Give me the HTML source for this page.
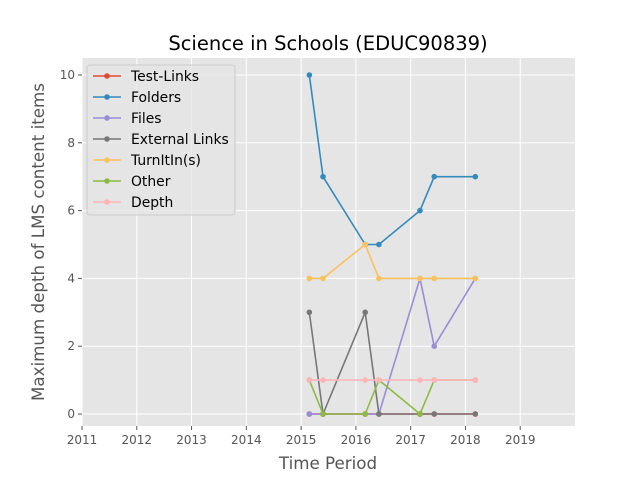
<!DOCTYPE html>
<html><head><meta charset="utf-8"><style>
body{margin:0;background:#fff;font-family:"DejaVu Sans","Liberation Sans",sans-serif}
</style></head><body>
<svg id="chart" width="640" height="480" xmlns="http://www.w3.org/2000/svg" font-family="DejaVu Sans, Liberation Sans, sans-serif"></svg>
<script>
const xTicks=[2011,2012,2013,2014,2015,2016,2017,2018,2019];
const yTicks=[0,2,4,6,8,10];
const times=[2015.15,2015.40,2016.17,2016.42,2017.17,2017.43,2018.18];
const seriesNames=["Test-Links","Folders","Files","External Links","TurnItIn(s)","Other","Depth"];
const colors=["#E24A33","#348ABD","#988ED5","#777777","#FBC15E","#8EBA42","#FFB5B8"];
const testLinks=[0,0,0,0,0,0,0];
const folders=[10,7,5,5,6,7,7];
const files=[0,0,0,0,4,2,4];
const externalLinks=[3,0,3,0,0,0,0];
const turnitin=[4,4,5,4,4,4,4];
const other=[1,0,0,1,0,1,1];
const depth=[1,1,1,1,1,1,1];
const allSeries=[testLinks,folders,files,externalLinks,turnitin,other,depth];

const L=82,R=575,T=58,B=426;
const xs=v=>L+(v-2011)*(R-L)/9;
const ys=v=>414-v*33.9;
const svg=document.getElementById('chart');
const NS="http://www.w3.org/2000/svg";
function mk(tag,attrs,parent){const e=document.createElementNS(NS,tag);for(const k in attrs)e.setAttribute(k,attrs[k]);(parent||svg).appendChild(e);return e;}
let e=mk('rect',{x:L,y:T,width:R-L,height:B-T,fill:'#E5E5E5'});


xTicks.forEach(t=>{
  mk('line',{x1:xs(t),x2:xs(t),y1:T,y2:B,stroke:'#fff','stroke-width':1});
  mk('line',{x1:xs(t),x2:xs(t),y1:B,y2:B+4,stroke:'#555'});
  const tx=mk('text',{x:xs(t),y:B+18,'text-anchor':'middle','font-size':12,fill:'#555'});
  tx.textContent=t;
  
  
});
yTicks.forEach(t=>{
  mk('line',{x1:L,x2:R,y1:ys(t),y2:ys(t),stroke:'#fff','stroke-width':1});
  mk('line',{x1:L-4,x2:L,y1:ys(t),y2:ys(t),stroke:'#555'});
  const tx=mk('text',{x:L-7,y:ys(t)+4,'text-anchor':'end','font-size':12,fill:'#555'});
  tx.textContent=t;
  
  
});
allSeries.forEach((s,i)=>{
  const g=mk('g',{});
  
  
  mk('polyline',{points:s.map((v,j)=>xs(times[j])+','+ys(v)).join(' '),fill:'none',stroke:colors[i],'stroke-width':1.6},g);
  s.forEach((v,j)=>{const c=mk('circle',{cx:xs(times[j]),cy:ys(v),r:2.8,fill:colors[i]},g);
    
    });
});
let t=mk('text',{x:328,y:50,'text-anchor':'middle','font-size':19.5,fill:'#000'});t.textContent='Science in Schools (EDUC90839)';


t=mk('text',{x:328,y:469,'text-anchor':'middle','font-size':16.7,fill:'#555'});t.textContent='Time Period';


t=mk('text',{x:0,y:0,'text-anchor':'middle','font-size':16.7,fill:'#555',transform:'translate(44,242) rotate(-90)'});t.textContent='Maximum depth of LMS content items';


const lg=mk('g',{});


mk('rect',{x:87,y:65,width:148,height:150,rx:3,fill:'#E5E5E5',stroke:'#ccc','fill-opacity':0.8},lg);
seriesNames.forEach((n,i)=>{
  const y=76+i*21;
  const en=mk('g',{},lg);
  
  
  mk('line',{x1:93,x2:121,y1:y,y2:y,stroke:colors[i],'stroke-width':1.6},en);
  mk('circle',{cx:107,cy:y,r:2.8,fill:colors[i]},en);
  const tx=mk('text',{x:131,y:y+5,'font-size':13.9,fill:'#000'},en);tx.textContent=n;
});
</script>
</body></html>
